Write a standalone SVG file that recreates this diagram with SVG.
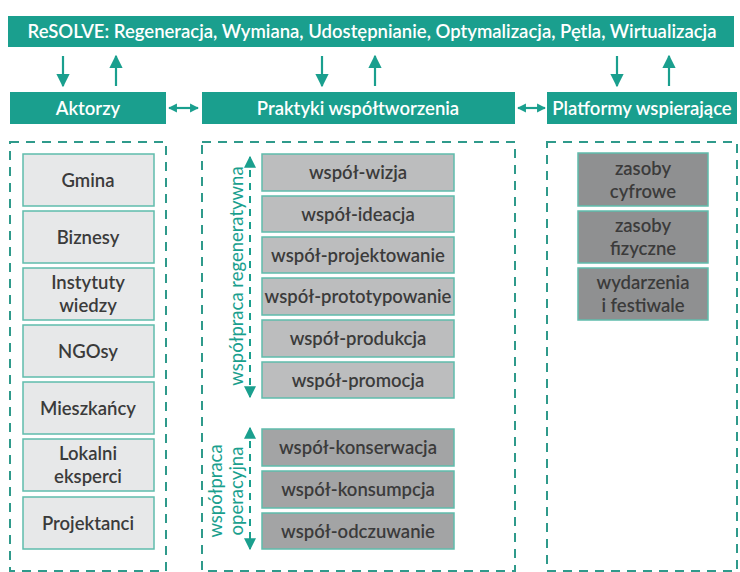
<svg xmlns="http://www.w3.org/2000/svg" width="740" height="572" viewBox="0 0 740 572">
  <style>
    .bar { fill: #1a9f8e; }
    .bar-text { font-family: Lato, "Liberation Sans", sans-serif; font-size: 18.5px; font-weight: 600; fill: #ffffff; text-anchor: middle; }
    .frame { fill: none; stroke: #2f9a8b; stroke-width: 2; stroke-dasharray: 9 7; }
    .box { stroke: #5fbcac; stroke-width: 1.5; }
    .actor { fill: #e7e8e9; }
    .regen { fill: #bcbdbe; }
    .oper { fill: #a3a4a5; }
    .plat { fill: #8f9091; }
    .label { font-family: Lato, "Liberation Sans", sans-serif; font-size: 18.5px; font-weight: 600; fill: #3b3b3b; text-anchor: middle; }
    .flow { stroke: #1a9f8e; stroke-width: 2.2; fill: none; }
    .dashflow { stroke: #1a9f8e; stroke-width: 2; fill: none; stroke-dasharray: 7 6; }
    .side { font-family: Lato, "Liberation Sans", sans-serif; font-size: 18.5px; fill: #1a9f8e; text-anchor: middle; }
  </style>
  <defs>
    <marker id="tip" viewBox="0 0 10 10" refX="9" refY="5" markerWidth="6" markerHeight="6" markerUnits="strokeWidth" orient="auto-start-reverse">
      <path d="M0,0 L10,5 L0,10 Z" fill="#1a9f8e"/>
    </marker>
    <marker id="tipS" viewBox="0 0 10 10" refX="9" refY="5" markerWidth="4" markerHeight="5" markerUnits="strokeWidth" orient="auto-start-reverse">
      <path d="M0,0 L10,5 L0,10 Z" fill="#1a9f8e"/>
    </marker>
  </defs>

  <!-- Top banner -->
  <g id="resolve">
    <rect class="bar" x="8" y="16" width="726" height="31"/>
    <text class="bar-text" x="372" y="38">ReSOLVE: Regeneracja, Wymiana, Udostępnianie, Optymalizacja, Pętla, Wirtualizacja</text>
  </g>

  <!-- Column headers -->
  <g id="aktorzy">
    <rect class="bar" x="10" y="92" width="156" height="32"/>
    <text class="bar-text" x="88" y="114.5">Aktorzy</text>
  </g>
  <g id="praktyki">
    <rect class="bar" x="202" y="92" width="313" height="32"/>
    <text class="bar-text" x="358" y="114.5">Praktyki współtworzenia</text>
  </g>
  <g id="platformy">
    <rect class="bar" x="547" y="92" width="190" height="32"/>
    <text class="bar-text" x="642" y="114.5">Platformy wspierające</text>
  </g>

  <!-- Connectors -->
  <g id="connectors">
    <line class="flow" x1="63" y1="56" x2="63" y2="86" marker-end="url(#tip)"/>
    <line class="flow" x1="116" y1="86" x2="116" y2="56" marker-end="url(#tip)"/>
    <line class="flow" x1="322" y1="56" x2="322" y2="86" marker-end="url(#tip)"/>
    <line class="flow" x1="375" y1="86" x2="375" y2="56" marker-end="url(#tip)"/>
    <line class="flow" x1="617" y1="56" x2="617" y2="86" marker-end="url(#tip)"/>
    <line class="flow" x1="669" y1="86" x2="669" y2="56" marker-end="url(#tip)"/>
    <line class="flow" x1="169" y1="108" x2="198" y2="108" marker-start="url(#tipS)" marker-end="url(#tipS)"/>
    <line class="flow" x1="518" y1="108" x2="545" y2="108" marker-start="url(#tipS)" marker-end="url(#tipS)"/>
    <line class="dashflow" x1="250" y1="157" x2="250" y2="397" marker-start="url(#tip)" marker-end="url(#tip)"/>
    <line class="dashflow" x1="250" y1="428" x2="250" y2="549" marker-start="url(#tip)" marker-end="url(#tip)"/>
  </g>

  <!-- Column frames -->
  <g id="frames">
    <rect class="frame" x="10" y="142" width="156" height="429"/>
    <rect class="frame" x="202" y="142" width="313" height="429"/>
    <rect class="frame" x="547" y="142" width="190" height="429"/>
  </g>

  <!-- Actors -->
  <g id="gmina"><rect class="box actor" x="23" y="154" width="131" height="52"/><text class="label" x="88" y="187">Gmina</text></g>
  <g id="biznesy"><rect class="box actor" x="23" y="211" width="131" height="52"/><text class="label" x="88" y="244">Biznesy</text></g>
  <g id="instytuty"><rect class="box actor" x="23" y="268" width="131" height="52"/><text class="label" x="88" y="289">Instytuty</text><text class="label" x="88" y="312">wiedzy</text></g>
  <g id="ngosy"><rect class="box actor" x="23" y="325" width="131" height="52"/><text class="label" x="88" y="358">NGOsy</text></g>
  <g id="mieszkancy"><rect class="box actor" x="23" y="382" width="131" height="52"/><text class="label" x="88" y="415">Mieszkańcy</text></g>
  <g id="lokalni"><rect class="box actor" x="23" y="439" width="131" height="52"/><text class="label" x="88" y="460">Lokalni</text><text class="label" x="88" y="483">eksperci</text></g>
  <g id="projektanci"><rect class="box actor" x="23" y="497" width="131" height="52"/><text class="label" x="88" y="530">Projektanci</text></g>

  <!-- Practices: regenerative group -->
  <g id="wizja"><rect class="box regen" x="262" y="154" width="192" height="37"/><text class="label" x="358" y="179">współ-wizja</text></g>
  <g id="ideacja"><rect class="box regen" x="262" y="196" width="192" height="36"/><text class="label" x="358" y="220.5">współ-ideacja</text></g>
  <g id="projektowanie"><rect class="box regen" x="262" y="237" width="192" height="36"/><text class="label" x="358" y="261.5">współ-projektowanie</text></g>
  <g id="prototypowanie"><rect class="box regen" x="262" y="278" width="192" height="37"/><text class="label" x="358" y="303">współ-prototypowanie</text></g>
  <g id="produkcja"><rect class="box regen" x="262" y="320" width="192" height="37"/><text class="label" x="358" y="345">współ-produkcja</text></g>
  <g id="promocja"><rect class="box regen" x="262" y="362" width="192" height="36"/><text class="label" x="358" y="386.5">współ-promocja</text></g>

  <!-- Practices: operational group -->
  <g id="konserwacja"><rect class="box oper" x="262" y="429" width="192" height="37"/><text class="label" x="358" y="454">współ-konserwacja</text></g>
  <g id="konsumpcja"><rect class="box oper" x="262" y="471" width="192" height="37"/><text class="label" x="358" y="496">współ-konsumpcja</text></g>
  <g id="odczuwanie"><rect class="box oper" x="262" y="513" width="192" height="36"/><text class="label" x="358" y="537.5">współ-odczuwanie</text></g>

  <!-- Group labels -->
  <g id="regeneratywna">
    <text class="side" transform="translate(243 276) rotate(-90)">współpraca regeneratywna</text>
  </g>
  <g id="operacyjna">
    <text class="side" transform="translate(222 491) rotate(-90)">współpraca</text>
    <text class="side" transform="translate(243 491) rotate(-90)">operacyjna</text>
  </g>

  <!-- Supporting platforms -->
  <g id="cyfrowe"><rect class="box plat" x="578" y="153" width="130" height="53"/><text class="label" x="643" y="175">zasoby</text><text class="label" x="643" y="198">cyfrowe</text></g>
  <g id="fizyczne"><rect class="box plat" x="578" y="211" width="130" height="52"/><text class="label" x="643" y="232">zasoby</text><text class="label" x="643" y="255">fizyczne</text></g>
  <g id="wydarzenia"><rect class="box plat" x="578" y="268" width="130" height="52"/><text class="label" x="643" y="289">wydarzenia</text><text class="label" x="643" y="312">i festiwale</text></g>
</svg>
